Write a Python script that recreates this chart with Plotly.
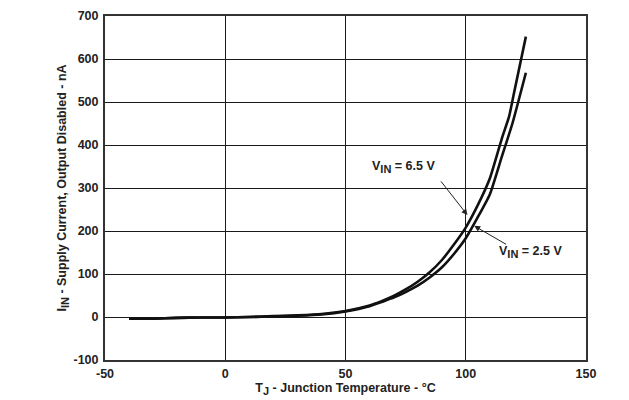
import plotly.graph_objects as go

# Data
temp_65 = [-40, -30, -20, -10, 0, 10, 20, 30, 40, 50, 60, 65, 70, 75, 80, 85, 90, 95, 100, 105, 110, 115, 118, 120, 125]
iin_65 = [-4, -4, -2, -1, -1, 0, 2, 4, 7, 14, 27, 37, 49, 64, 82, 104, 132, 168, 208, 260, 322, 415, 466, 519, 652]

temp_25 = [-40, -30, -20, -10, 0, 10, 20, 30, 40, 50, 60, 65, 70, 75, 80, 85, 90, 95, 100, 105, 110, 115, 119.4, 125]
iin_25 = [-4, -4, -2, -1, -1, 0, 1, 3, 6, 13, 25, 35, 45, 58, 73, 92, 115, 146, 183, 232, 285, 373, 450, 568]

x_ticks = [-50, 0, 50, 100, 150]
y_ticks = [-100, 0, 100, 200, 300, 400, 500, 600, 700]

FAMILY = "Liberation Sans, Arial, sans-serif"
FONT = dict(family=FAMILY, size=12.5, color="#222222", weight="bold")
SUB = "<sub><span style='font-size:11px'>{}</span></sub>"

fig = go.Figure()
fig.add_trace(go.Scatter(x=temp_65, y=iin_65, mode="lines", line=dict(color="#111111", width=2.6, shape="spline", smoothing=0.5), name="VIN = 6.5 V"))
fig.add_trace(go.Scatter(x=temp_25, y=iin_25, mode="lines", line=dict(color="#111111", width=2.6, shape="spline", smoothing=0.5), name="VIN = 2.5 V"))

fig.update_layout(
    width=629, height=400,
    margin=dict(l=105, r=43, t=16, b=40),
    paper_bgcolor="white", plot_bgcolor="white",
    showlegend=False,
    font=FONT,
    xaxis=dict(
        range=[-50, 150], tickvals=x_ticks, ticktext=[str(v) for v in x_ticks],
        showgrid=True, gridcolor="#1a1a1a", gridwidth=1,
        showline=True, linecolor="#333333", linewidth=2, mirror=True,
        zeroline=False, ticks="outside", ticklen=1, tickcolor="rgba(0,0,0,0)",
        tickfont=FONT, automargin=False,
        title=dict(text="T" + SUB.format("J") + " - Junction Temperature - °C", standoff=0, font=FONT),
    ),
    yaxis=dict(
        range=[-100, 700], tickvals=y_ticks, ticktext=[str(v) for v in y_ticks],
        showgrid=True, gridcolor="#1a1a1a", gridwidth=1,
        showline=True, linecolor="#333333", linewidth=2, mirror=True,
        zeroline=False, ticks="outside", ticklen=2, tickcolor="rgba(0,0,0,0)",
        tickfont=FONT, automargin=False,
        title=dict(text="I" + SUB.format("IN") + " - Supply Current, Output Disabled - nA", standoff=4, font=FONT),
    ),
)

# Arrows
fig.add_annotation(x=100.7, y=237, ax=89.2, ay=319, xref="x", yref="y", axref="x", ayref="y",
                   text="", showarrow=True, arrowhead=2, arrowsize=1.2, arrowwidth=1, arrowcolor="#222222")
fig.add_annotation(x=103.5, y=212, ax=117.4, ay=167, xref="x", yref="y", axref="x", ayref="y",
                   text="", showarrow=True, arrowhead=2, arrowsize=1.2, arrowwidth=1, arrowcolor="#222222")
# Labels
fig.add_annotation(x=74.2, y=349, xref="x", yref="y", showarrow=False,
                   text="V" + SUB.format("IN") + " = 6.5 V", font=FONT)
fig.add_annotation(x=127, y=151, xref="x", yref="y", showarrow=False,
                   text="V" + SUB.format("IN") + " = 2.5 V", font=FONT)

fig.write_html("out.html")
